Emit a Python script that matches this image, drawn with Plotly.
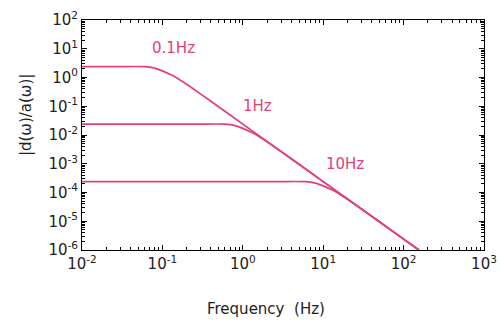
import math
import plotly.graph_objects as go

# Curve data (frequency in Hz, magnitude)
f_01 = [0.01, 0.03, 0.06, 0.08, 0.1, 0.13, 0.15, 0.2, 0.3, 0.5, 1, 10, 100, 155]
m_01 = [2.4, 2.4, 2.38, 2.12, 1.7, 1.22, 0.98, 0.58, 0.265, 0.096, 0.024, 2.4e-4, 2.4e-6, 1.0e-6]

f_1 = [0.01, 0.1, 0.3, 0.6, 0.8, 1, 1.3, 1.5, 2, 3, 5, 10, 100, 155]
m_1 = [0.024, 0.024, 0.024, 0.0238, 0.0212, 0.017, 0.0122, 0.0098, 0.0058, 0.00265, 9.6e-4, 2.4e-4, 2.4e-6, 1.0e-6]

f_10 = [0.01, 0.1, 1, 3, 6, 8, 10, 13, 15, 20, 30, 50, 100, 155]
m_10 = [2.4e-4, 2.4e-4, 2.4e-4, 2.4e-4, 2.38e-4, 2.12e-4, 1.7e-4, 1.22e-4, 9.8e-5, 5.8e-5, 2.65e-5, 9.6e-6, 2.4e-6, 1.0e-6]

curve_labels = ["0.1Hz", "1Hz", "10Hz"]
label_x = [0.1355, 1.545, 18.7]
label_y = [10.6, 0.102, 9.8e-4]

x_tickvals = [1e-2, 1e-1, 1e0, 1e1, 1e2, 1e3]
x_ticktext = ["10<sup>-2</sup>", "10<sup>-1</sup>", "10<sup>0</sup>", "10<sup>1</sup>", "10<sup>2</sup>", "10<sup>3</sup>"]
y_tickvals = [1e-6, 1e-5, 1e-4, 1e-3, 1e-2, 1e-1, 1e0, 1e1, 1e2]
y_ticktext = ["10<sup>-6</sup>", "10<sup>-5</sup>", "10<sup>-4</sup>", "10<sup>-3</sup>", "10<sup>-2</sup>",
              "10<sup>-1</sup>", "10<sup>0</sup>", "10<sup>1</sup>", "10<sup>2</sup>"]
x_title = "Frequency  (Hz)"
y_title = "|d(ω)/a(ω)|"
minor_mult = [2, 3, 4, 5, 6, 7, 8, 9]

x_minor = [d * m for d in x_tickvals[:-1] for m in minor_mult]
y_minor = [d * m for d in y_tickvals[:-1] for m in minor_mult]

color = "#e0407f"
font_fam = "DejaVu Sans, Arial"
text_col = "#222"
fig = go.Figure()
for fx, my in [(f_01, m_01), (f_1, m_1), (f_10, m_10)]:
    fig.add_trace(go.Scatter(x=fx, y=my, mode="lines",
                             line=dict(color=color, width=1.7, shape="spline", smoothing=0.6),
                             showlegend=False, hoverinfo="skip"))

for t, lx, ly in zip(curve_labels, label_x, label_y):
    fig.add_annotation(x=math.log10(lx), y=math.log10(ly), text=t,
                       showarrow=False, font=dict(color=color, size=15, family=font_fam))

# axis titles placed as in the reference
fig.add_annotation(xref="paper", yref="paper", x=0.458, y=-0.257, xanchor="center", yanchor="middle",
                   text=x_title, showarrow=False,
                   font=dict(size=15, color=text_col, family=font_fam))
fig.add_annotation(xref="paper", yref="paper", x=-0.139, y=0.587, xanchor="center", yanchor="middle",
                   text=y_title, showarrow=False,
                   textangle=-90, font=dict(size=15, color=text_col, family=font_fam))

axis_common = dict(type="log", showline=True, linecolor="black", linewidth=1, mirror="ticks",
                   ticks="inside", ticklen=5, tickcolor="black", showgrid=False, zeroline=False,
                   automargin=False,
                   tickfont=dict(size=15, color=text_col, family=font_fam))

fig.update_xaxes(**axis_common, range=[-2, 3], tickvals=x_tickvals, ticktext=x_ticktext,
                 minor=dict(ticks="inside", ticklen=3, tickcolor="black", tickvals=x_minor, showgrid=False))
fig.update_yaxes(**axis_common, range=[-6, 2], tickvals=y_tickvals, ticktext=y_ticktext,
                 minor=dict(ticks="inside", ticklen=3, tickcolor="black", tickvals=y_minor, showgrid=False))

fig.update_layout(width=500, height=322, margin=dict(l=82, r=16, t=20, b=72, autoexpand=False),
                  plot_bgcolor="white", paper_bgcolor="white")
fig.write_html("out.html", config={"displayModeBar": False},
               post_script="document.body.style.margin='0';document.body.style.padding='0';")
